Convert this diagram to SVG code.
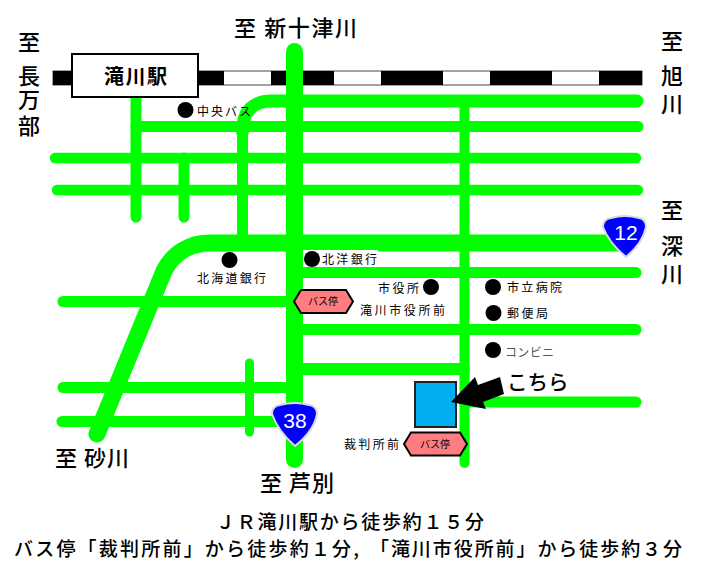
<svg xmlns="http://www.w3.org/2000/svg" width="708" height="579" viewBox="0 0 708 579">
<style>
text{font-family:"Noto Sans CJK JP","Noto Sans",sans-serif;fill:#000}
.big{font-size:22px;font-weight:500;text-anchor:middle}
.lab{font-size:22px;font-weight:500}
.sm{font-size:12px}
.foot{font-size:19px;font-weight:500}
.road{fill:none;stroke:#00ff00;stroke-linecap:round}
.dot{fill:#000}
.hex{fill:#ff7c80;stroke:#000;stroke-width:2}
.shield{fill:#0000ff;stroke:#d9d9e0;stroke-width:2}
.num{font-family:"Liberation Sans",Arial,sans-serif;font-size:21px;fill:#fff;text-anchor:middle}
</style>
<rect width="708" height="579" fill="#fff"/>
<g id="rail">
<rect x="53" y="71" width="589" height="14" fill="#fff" stroke="#444" stroke-width="1"/>
<path d="M53 71H224V85H53ZM271 71H334V85H271ZM381 71H443V85H381ZM490 71H552V85H490ZM599 71H642V85H599Z" fill="#000"/>
</g>
<g id="connectors">
<path class="road" stroke-width="11" d="M136 97V217"/>
<path class="road" stroke-width="11" d="M184 158V217"/>
<path class="road" stroke-width="11" d="M242.500 240V132"/>
<path class="road" stroke-width="13" d="M242.500 132Q242.500 101 272 101H637"/>
<path class="road" stroke-width="11" d="M136 126.500H638"/>
<path class="road" stroke-width="10.500" d="M55 158H636"/>
<path class="road" stroke-width="10.500" d="M57 190H638"/>
<path class="road" stroke-width="17" d="M97 434L164 271C173 253 190 243 210 243H625"/>
<path class="road" stroke-width="11" d="M295 272.500H636"/>
<path class="road" stroke-width="11" d="M63 301.500H295"/>
<path class="road" stroke-width="11" d="M295 329.500H636"/>
<path class="road" stroke-width="12" d="M295 369H464"/>
<path class="road" stroke-width="11" d="M63 387.500H295"/>
<path class="road" stroke-width="11" d="M62 421.500H295"/>
<path class="road" stroke-width="9" d="M249.500 363V432"/>
<path class="road" stroke-width="11" d="M464 402H636"/>
<path class="road" stroke-width="10" d="M464.500 101V463"/>
<path class="road" stroke-width="17" d="M294.500 51.500V459.500"/>
</g>
<g id="station"><rect x="72" y="54" width="126" height="43" fill="#fff" stroke="#000" stroke-width="2"/><text x="104" y="84" font-size="20" font-weight="700" textLength="63">滝川駅</text></g>
<g id="label-north"><text class="lab" x="234" y="36" textLength="123" xml:space="preserve">至 新十津川</text></g>
<g id="label-west"><text class="big"><tspan x="29" y="50">至</tspan><tspan x="29" y="84">長</tspan><tspan x="29" y="108">万</tspan><tspan x="29" y="134">部</tspan></text></g>
<g id="label-east"><text class="big"><tspan x="672" y="49">至</tspan><tspan x="672" y="84">旭</tspan><tspan x="672" y="112">川</tspan></text></g>
<g id="label-east2"><text class="big"><tspan x="672" y="218">至</tspan><tspan x="672" y="254">深</tspan><tspan x="672" y="282">川</tspan></text></g>
<g id="label-sw"><text class="lab" x="55" y="466" textLength="74" xml:space="preserve">至 砂川</text></g>
<g id="label-south"><text class="lab" x="260" y="491" textLength="74" xml:space="preserve">至 芦別</text></g>
<g id="poi-bus-central"><circle class="dot" cx="185.500" cy="110" r="8"/><text class="sm" x="197" y="116" textLength="54">中央バス</text></g>
<g id="poi-hokkaido-bank"><circle class="dot" cx="229.500" cy="260" r="8"/><text class="sm" x="197" y="283" textLength="69">北海道銀行</text></g>
<g id="poi-hokuyo-bank"><rect x="303" y="250" width="75" height="17" fill="#fff"/><circle class="dot" cx="312" cy="259" r="8"/><text class="sm" x="322" y="264" textLength="55">北洋銀行</text></g>
<g id="poi-city-hall"><circle class="dot" cx="431" cy="287" r="8"/><text class="sm" x="378" y="293" textLength="41">市役所</text></g>
<g id="poi-hospital"><circle class="dot" cx="493" cy="287" r="8"/><text class="sm" x="507" y="292" textLength="55">市立病院</text></g>
<g id="poi-post"><circle class="dot" cx="493.500" cy="313" r="8"/><text class="sm" x="507" y="318" textLength="41">郵便局</text></g>
<g id="poi-conv"><circle class="dot" cx="493" cy="350" r="8"/><text class="sm" x="505" y="357" textLength="49" style="fill:#555">コンビニ</text></g>
<g id="stop-city"><path class="hex" d="M301 290H346L353 301.500L346 313H301L294 301.500Z"/><text x="323" y="305" font-size="10" text-anchor="middle">バス停</text><text class="sm" x="360" y="315" textLength="85">滝川市役所前</text></g>
<g id="stop-court"><path class="hex" d="M411 432.500H460L467 444L460 455.500H411L404 444Z"/><text x="435" y="448" font-size="10" text-anchor="middle">バス停</text><text class="sm" x="344" y="449" textLength="55">裁判所前</text></g>
<g id="shield-12"><path class="shield" d="M611 218Q625 214 639 218Q646 219 646 227Q643 243 626 257Q609 243 603 227Q603 219 611 218Z"/><text class="num" x="626" y="240">12</text></g>
<g id="shield-38"><path class="shield" d="M280 405Q295 401 309 405Q317 406 317 414Q314 431 295 446Q278 431 272 414Q272 406 280 405Z"/><text class="num" x="295" y="428">38</text></g>
<g id="destination"><rect x="415" y="382" width="41" height="45" fill="#00aeef" stroke="#222" stroke-width="2"/></g>
<g id="arrow"><path d="M451 402L475 377L478 385L500 377L504 394L483 402L486 409Z" fill="#000"/><text x="507" y="390" font-size="20.500" font-weight="500">こちら</text></g>
<g id="footer"><text class="foot" x="216" y="529" textLength="268">ＪＲ滝川駅から徒歩約１５分</text><text class="foot" x="14" y="556" textLength="345">バス停「裁判所前」から徒歩約１分,</text><text class="foot" x="370" y="556" textLength="312">「滝川市役所前」から徒歩約３分</text></g>
</svg>
